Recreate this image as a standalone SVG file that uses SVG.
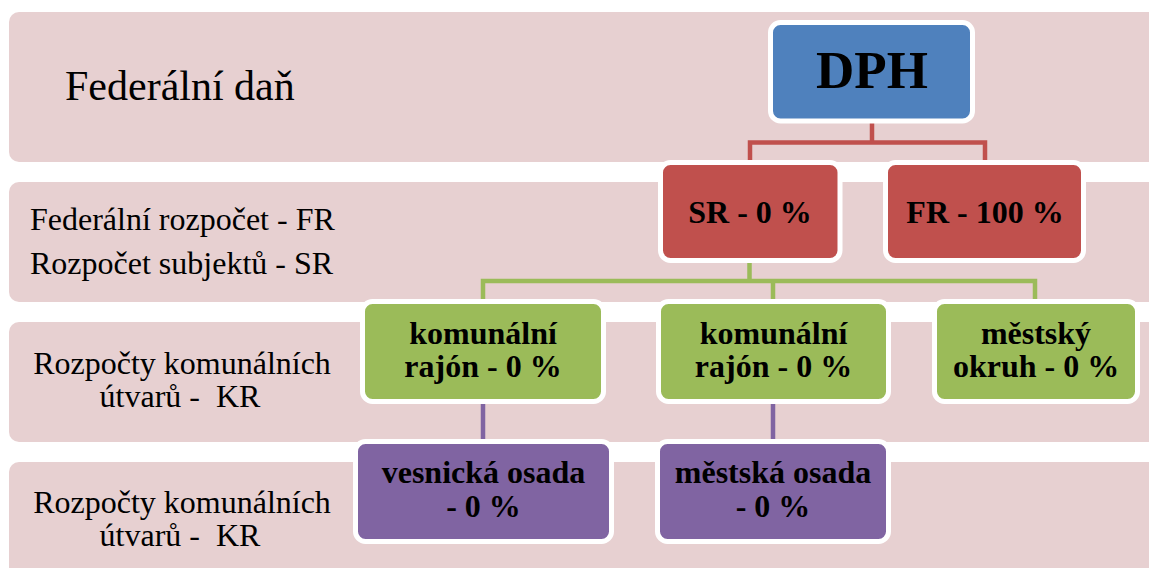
<svg xmlns="http://www.w3.org/2000/svg" width="1149" height="568" viewBox="0 0 1149 568">
  <style>
    .band { fill: #E7D0D1; }
    .band-label { fill: #000; }
    .box { stroke: #FFFFFF; stroke-width: 5; }
    .blue { fill: #4F81BD; }
    .red { fill: #C0504D; }
    .green { fill: #9BBB59; }
    .purple { fill: #8064A2; }
    .node-text { font-weight: bold; fill: #000; text-anchor: middle; }
    .conn { fill: none; stroke-width: 4.5; stroke-linejoin: miter; }
  </style>
  <rect width="1149" height="568" fill="#FFFFFF"/>

  <!-- level bands -->
  <g id="bands" font-family="Liberation Serif, DejaVu Serif, serif">
    <rect class="band" x="9" y="12" width="1160" height="150" rx="10"/>
    <rect class="band" x="9" y="182" width="1160" height="120" rx="10"/>
    <rect class="band" x="9" y="322" width="1160" height="120" rx="10"/>
    <rect class="band" x="9" y="462" width="1160" height="130" rx="10"/>
    <text class="band-label" x="65" y="100" font-size="42">Federální daň</text>
    <text class="band-label" x="30" y="230" font-size="32">Federální rozpočet - FR</text>
    <text class="band-label" x="30" y="274" font-size="32">Rozpočet subjektů - SR</text>
    <text class="band-label" x="182" y="374" font-size="32" text-anchor="middle">Rozpočty komunálních</text>
    <text class="band-label" x="180" y="407" font-size="32" text-anchor="middle">útvarů -&#160; KR</text>
    <text class="band-label" x="182" y="513" font-size="32" text-anchor="middle">Rozpočty komunálních</text>
    <text class="band-label" x="180" y="546" font-size="32" text-anchor="middle">útvarů -&#160; KR</text>
  </g>

  <!-- connectors -->
  <g id="connectors">
    <path class="conn" stroke="#C0504D" d="M872 121 V142.5 M750 163 V142.5 H985 V163"/>
    <path class="conn" stroke="#9BBB59" d="M749.5 261 V281 M483 302 V281 H1035 V302 M773 281 V302"/>
    <path class="conn" stroke="#8064A2" d="M483 401 V442 M773 401 V442"/>
  </g>

  <g id="nodes" font-family="Liberation Serif, DejaVu Serif, serif">
    <g id="dph">
      <rect class="box blue" x="770.5" y="22.5" width="202" height="98.5" rx="10"/>
      <text class="node-text" x="872" y="88" font-size="53">DPH</text>
    </g>

    <g id="sr">
      <rect class="box red" x="660.5" y="162.5" width="179.5" height="98" rx="10"/>
      <text class="node-text" x="750" y="222.5" font-size="32">SR - 0 %</text>
    </g>

    <g id="fr">
      <rect class="box red" x="885.5" y="162.5" width="198" height="98" rx="10"/>
      <text class="node-text" x="985" y="222.5" font-size="32">FR - 100 %</text>
    </g>

    <g id="rajon-1">
      <rect class="box green" x="362.5" y="301.5" width="241" height="100" rx="10"/>
      <text class="node-text" x="483" y="344" font-size="32">komunální</text>
      <text class="node-text" x="483" y="377" font-size="32">rajón - 0 %</text>
    </g>

    <g id="rajon-2">
      <rect class="box green" x="658.5" y="301.5" width="230" height="100" rx="10"/>
      <text class="node-text" x="773.5" y="344" font-size="32">komunální</text>
      <text class="node-text" x="773.5" y="377" font-size="32">rajón - 0 %</text>
    </g>

    <g id="okruh">
      <rect class="box green" x="934.5" y="301.5" width="203" height="100" rx="10"/>
      <text class="node-text" x="1036" y="344" font-size="32">městský</text>
      <text class="node-text" x="1036" y="377" font-size="32">okruh - 0 %</text>
    </g>

    <g id="vesnicka-osada">
      <rect class="box purple" x="355.5" y="441.5" width="256" height="100" rx="10"/>
      <text class="node-text" x="483.5" y="483" font-size="32">vesnická osada</text>
      <text class="node-text" x="483.5" y="517" font-size="32">- 0 %</text>
    </g>

    <g id="mestska-osada">
      <rect class="box purple" x="657.5" y="441.5" width="231" height="100" rx="10"/>
      <text class="node-text" x="773" y="483" font-size="32">městská osada</text>
      <text class="node-text" x="773" y="517" font-size="32">- 0 %</text>
    </g>
  </g>
</svg>
